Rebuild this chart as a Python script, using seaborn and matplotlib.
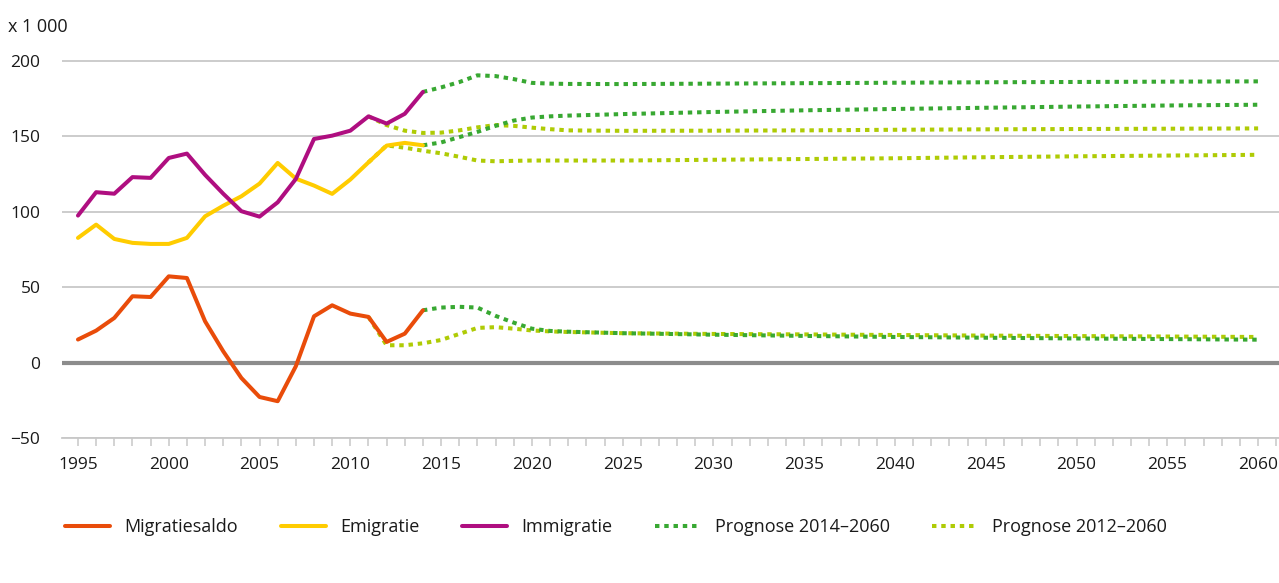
import matplotlib
matplotlib.use("Agg")
import matplotlib.pyplot as plt
import seaborn as sns
from matplotlib.lines import Line2D

# ---------------- data ----------------
years_hist = [1995, 1996, 1997, 1998, 1999, 2000, 2001, 2002, 2003, 2004,
              2005, 2006, 2007, 2008, 2009, 2010, 2011, 2012, 2013, 2014]
immigratie = [97.5, 113, 112, 123, 122.5, 135.7, 138.6, 124.5, 112, 100.4,
              96.8, 106.3, 121.8, 148.3, 150.5, 153.8, 163.3, 158.5, 165, 179.5]
emigratie = [82.7, 91.5, 82, 79.4, 78.7, 78.7, 82.7, 97, 104, 110.3,
             118.7, 132.4, 122, 117.4, 111.9, 121.4, 132.8, 143.9, 145.7, 144.1]
migratiesaldo = [15.3, 21.2, 29.6, 44, 43.5, 57.2, 56.1, 27.4, 7.5, -10.2,
                 -22.8, -25.6, -2.4, 30.7, 38, 32.5, 30.3, 13.7, 19.2, 34.7]

# Prognose 2014-2060
years_p14 = [2014, 2015, 2016, 2017, 2018, 2019, 2020, 2021, 2022, 2025,
             2030, 2035, 2040, 2045, 2050, 2055, 2060]
p14_immigratie = [179.5, 182.5, 186, 190.5, 190, 188, 185.5, 185, 184.8, 184.7,
                  185, 185.3, 185.6, 185.9, 186.1, 186.3, 186.5]
p14_emigratie = [144.1, 146, 149.5, 153, 157, 160.5, 162.5, 163.3, 163.8, 164.8,
                 166.2, 167.3, 168.2, 169, 169.8, 170.5, 171]
p14_saldo = [34.7, 36.5, 37, 36.5, 31, 26.5, 22.5, 21, 20.5, 19.5,
             18.5, 17.7, 17, 16.5, 16, 15.6, 15.2]

# Prognose 2012-2060
years_p12 = [2011, 2012, 2013, 2014, 2015, 2016, 2017, 2018, 2019, 2020,
             2021, 2022, 2025, 2030, 2035, 2040, 2045, 2050, 2055, 2060]
p12_immigratie = [163.3, 157.5, 153.8, 152.3, 152.5, 154, 156, 157.5, 157, 155.8,
                  154.8, 154, 153.7, 153.8, 154, 154.4, 154.7, 154.9, 155.1, 155.3]
p12_emigratie = [132.8, 144, 142.5, 140.5, 138.8, 136.5, 134, 133.5, 133.8, 134,
                 134, 134, 134, 134.5, 135, 135.5, 136.2, 136.8, 137.3, 137.8]
p12_saldo = [30.3, 11.5, 11.5, 12.8, 15, 19, 23, 23.5, 22.5, 21.3,
             20.7, 20.3, 19.5, 19, 18.7, 18.3, 17.9, 17.6, 17.3, 17]

xtick_labels = [1995, 2000, 2005, 2010, 2015, 2020, 2025, 2030, 2035, 2040,
                2045, 2050, 2055, 2060]
ytick_values = [-50, 0, 50, 100, 150, 200]

legend_labels = ["Migratiesaldo", "Emigratie", "Immigratie",
                 "Prognose 2014\u20132060", "Prognose 2012\u20132060"]

# ---------------- style ----------------
sns.set_theme(style="white")
plt.rcParams['font.family'] = ['Open Sans', 'DejaVu Sans']

C_ORANGE = "#E94C0A"
C_YELLOW = "#FFCC00"
C_PURPLE = "#AF0E80"
C_GREEN = "#38A832"
C_LGREEN = "#AFCB05"
C_TEXT = "#1a1a1a"
C_GRID = "#c8c8c8"

LW = 2.9
DOT = (0, (1.1, 1.2))
FS_TICK = 12.5
FS_LEG = 13

fig = plt.figure(figsize=(12.79, 5.83), dpi=100)
ax = fig.add_axes([62 / 1279, (583 - 438) / 583, (1279 - 62) / 1279, (438 - 59.5) / 583])

# prognosis lines (below)
for yv, col in [(p12_immigratie, C_LGREEN), (p12_emigratie, C_LGREEN), (p12_saldo, C_LGREEN)]:
    sns.lineplot(x=years_p12, y=yv, ax=ax, color=col, lw=LW, linestyle=DOT,
                 dash_capstyle='butt', zorder=3)
for yv, col in [(p14_immigratie, C_GREEN), (p14_emigratie, C_GREEN), (p14_saldo, C_GREEN)]:
    sns.lineplot(x=years_p14, y=yv, ax=ax, color=col, lw=LW, linestyle=DOT,
                 dash_capstyle='butt', zorder=3)

# observed
sns.lineplot(x=years_hist, y=migratiesaldo, ax=ax, color=C_ORANGE, lw=LW, zorder=4)
sns.lineplot(x=years_hist, y=emigratie, ax=ax, color=C_YELLOW, lw=LW, zorder=4)
sns.lineplot(x=years_hist, y=immigratie, ax=ax, color=C_PURPLE, lw=LW, zorder=4)

# zero line
ax.axhline(0, color="#8c8c8c", lw=3.0, zorder=2)

ax.set_xlim(1994.12, 2061.15)
ax.set_ylim(-50, 201)

ax.set_yticks(ytick_values)
ax.set_yticklabels([("\u2212" + str(-v)) if v < 0 else str(v) for v in ytick_values])
ax.yaxis.grid(True, color=C_GRID, lw=1.3, zorder=1)
ax.xaxis.grid(False)
ax.tick_params(axis='y', length=0, pad=15.5, labelsize=FS_TICK, labelcolor=C_TEXT)

ax.set_xticks(xtick_labels)
ax.set_xticklabels([str(v) for v in xtick_labels])
ax.set_xticks(list(range(1995, 2062)), minor=True)
ax.tick_params(axis='x', which='both', direction='out', length=6, width=1.1,
               color=C_GRID, bottom=True)
ax.tick_params(axis='x', which='major', pad=8, labelsize=FS_TICK, labelcolor=C_TEXT)

for s in ['top', 'right', 'left']:
    ax.spines[s].set_visible(False)
ax.spines['bottom'].set_color(C_GRID)
ax.spines['bottom'].set_linewidth(1.3)

ax.set_xlabel("")
ax.set_ylabel("")

fig.text(8 / 1279, 1 - 27 / 583, "x 1 000", fontsize=FS_LEG, color=C_TEXT, va='center', ha='left')

handles = [
    Line2D([], [], color=C_ORANGE, lw=LW),
    Line2D([], [], color=C_YELLOW, lw=LW),
    Line2D([], [], color=C_PURPLE, lw=LW),
    Line2D([], [], color=C_GREEN, lw=LW, linestyle=DOT, dash_capstyle='butt'),
    Line2D([], [], color=C_LGREEN, lw=LW, linestyle=DOT, dash_capstyle='butt'),
]
fig.legend(handles, legend_labels, loc='center left',
           bbox_to_anchor=(56 / 1279, 1 - 527 / 583), ncol=5, frameon=False,
           fontsize=FS_LEG, handlelength=2.5, handletextpad=0.8,
           columnspacing=2.35, borderpad=0, labelcolor=C_TEXT)

fig.savefig("out.png", dpi=100)
